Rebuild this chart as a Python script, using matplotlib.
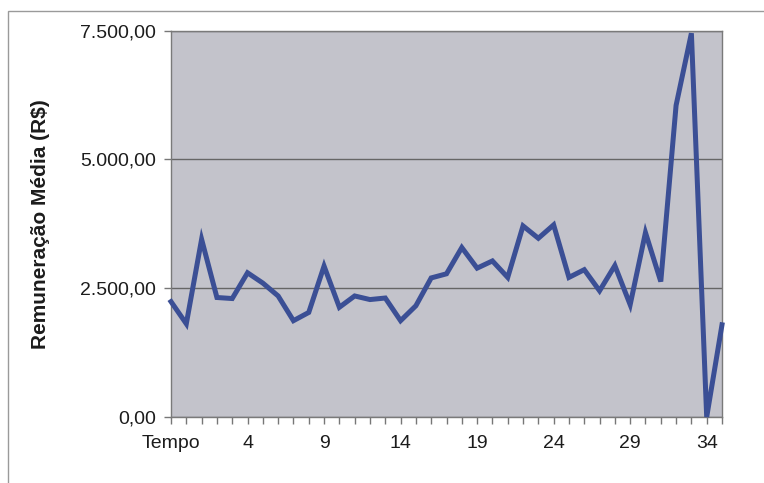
import matplotlib.pyplot as plt
from matplotlib.patches import Rectangle

# Remuneração média por período
tempo_labels = ['Tempo'] + [str(i) for i in range(36)]
remuneracao = [2240, 1810, 3450, 2320, 2300, 2800, 2600, 2350, 1870, 2030,
               2930, 2130, 2350, 2280, 2310, 1870, 2160, 2700, 2780, 3290,
               2890, 3030, 2710, 3710, 3470, 3730, 2710, 2860, 2450, 2940,
               2180, 3580, 2630, 6050, 7450, 0, 1790]
y_ticks = [0, 2500, 5000, 7500]
y_ticklabels = ['0,00', '2.500,00', '5.000,00', '7.500,00']

plt.rcParams['font.family'] = ['Liberation Sans', 'DejaVu Sans']

fig = plt.figure(figsize=(7.64, 4.83), dpi=100)
fig.patch.set_facecolor('white')

# outer chart frame (only top and left edges visible in the scan)
fig.patches.append(Rectangle((8 / 764, -0.1), 1.0, 1 - 11 / 483 + 0.1,
                             transform=fig.transFigure, fill=False,
                             edgecolor='#9a9a9a', linewidth=1.0))

ax = fig.add_axes([171 / 764, 66 / 483, 551 / 764, 386.3 / 483])
ax.set_facecolor('#c3c3cb')

x = list(range(len(remuneracao)))
ax.plot(x, remuneracao, color='#3b4f95', linewidth=3.6,
        solid_joinstyle='miter', zorder=3, clip_on=False)

ax.set_xlim(0, len(remuneracao) - 1)
ax.set_ylim(0, 7500)

ax.set_yticks(y_ticks)
ax.set_yticklabels(y_ticklabels, fontsize=14, color='#1c1c1c')
ax.set_xticks(x)
ax.set_xticklabels([lab if i % 5 == 0 else '' for i, lab in enumerate(tempo_labels)],
                   fontsize=14, color='#1c1c1c')
ax.tick_params(axis='y', length=5, width=1, color='#777777', pad=6)
ax.tick_params(axis='x', length=5, width=1, color='#777777', pad=8)

ax.grid(axis='y', color='#666666', linewidth=1.0)
ax.set_axisbelow(True)
for side in ax.spines.values():
    side.set_color('#7a7a7a')
    side.set_linewidth(1.0)

ax.set_ylabel('Remuneração Média (R$)', fontsize=15, fontweight='bold',
              color='#1c1c1c')
ax.yaxis.set_label_coords(-121 / 551, 0.5)

fig.savefig('out.png', dpi=100)
